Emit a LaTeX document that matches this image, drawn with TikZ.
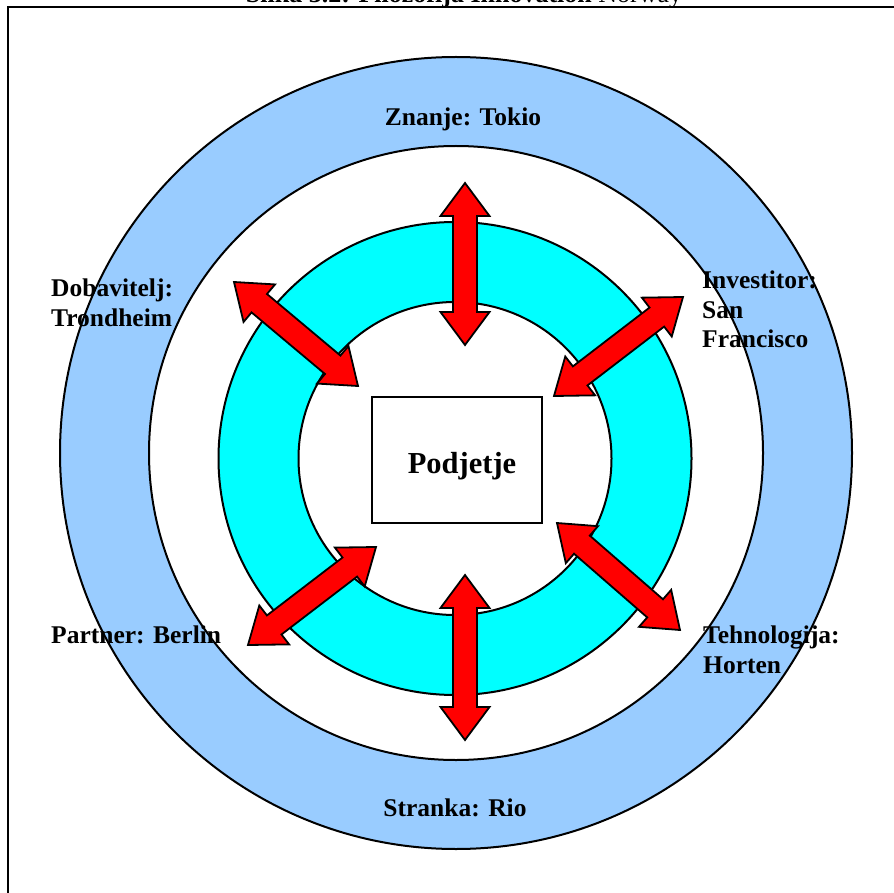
\documentclass[tikz,border=0pt]{standalone}
\usepackage{fontspec}
\setmainfont{Liberation Serif}
\usetikzlibrary{calc}
\definecolor{ringblue}{HTML}{99CCFF}
\definecolor{ringcyan}{HTML}{00FFFF}
\definecolor{arrowred}{HTML}{FF0000}
\tikzset{
  ringline/.style={draw=black, line width=2pt},
  arrowbody/.style={fill=arrowred, draw=black, line width=1.8pt, line join=miter},
  lbl/.style={inner sep=0pt, font=\fontsize{25.5}{29.5}\selectfont\bfseries, align=left},
  boxsty/.style={draw=black, line width=1.6pt, fill=white, minimum width=170pt, minimum height=126pt, inner sep=0pt},
}
\newcommand{\dblarrow}[2]{%
  \coordinate (h1) at ($(#1)!33pt!(#2)$);
  \coordinate (h2) at ($(#2)!33pt!(#1)$);
  \filldraw[arrowbody] (#1)
    -- ($(h1)!24.5pt!90:(#2)$) -- ($(h1)!12pt!90:(#2)$)
    -- ($(h2)!12pt!-90:(#1)$) -- ($(h2)!24.5pt!-90:(#1)$)
    -- (#2)
    -- ($(h2)!24.5pt!90:(#1)$) -- ($(h2)!12pt!90:(#1)$)
    -- ($(h1)!12pt!-90:(#2)$) -- ($(h1)!24.5pt!-90:(#2)$)
    -- cycle;
}
\begin{document}
\begin{tikzpicture}[x=1pt, y=-1pt]
\useasboundingbox (0,0) rectangle (894,893);
% rings
\coordinate (oc) at (456,453);
\coordinate (ic) at (455,458.5);
\filldraw[ringline, fill=ringblue] (oc) circle[radius=396pt];
\filldraw[ringline, fill=white] (oc) circle[radius=307pt];
\filldraw[ringline, fill=ringcyan] (ic) circle[radius=236.5pt];
\filldraw[ringline, fill=white] (ic) circle[radius=156.5pt];
% centre box
\node[boxsty] (firm) at (457,460) {};
\node[inner sep=0pt, anchor=base, font=\fontsize{30.5}{34}\selectfont\bfseries] (firmtext) at (462,473) {Podjetje};
% arrows
\coordinate (a1) at (465,183); \coordinate (b1) at (465,345);
\coordinate (a2) at (465,575); \coordinate (b2) at (465,740);
\coordinate (a3) at (234,282); \coordinate (b3) at (358,386);
\coordinate (a4) at (683,297); \coordinate (b4) at (554,396);
\coordinate (a5) at (376,547); \coordinate (b5) at (248,645);
\coordinate (a6) at (557,523); \coordinate (b6) at (680,630);
\dblarrow{a1}{b1}
\dblarrow{a2}{b2}
\dblarrow{a3}{b3}
\dblarrow{a4}{b4}
\dblarrow{a5}{b5}
\dblarrow{a6}{b6}
% labels
\node[lbl, anchor=base] (znanje) at (463,125.5) {Znanje: Tokio};
\node[lbl, anchor=base] (stranka) at (455,816.5) {Stranka: Rio};
\node[lbl, anchor=north west] (dobav) at (51,279) {Dobavitelj:\\Trondheim};
\node[lbl, anchor=north west] (invest) at (702,271) {Investitor:\\San\\Francisco};
\node[lbl, anchor=north west] (partner) at (51,626) {Partner: Berlin};
\node[lbl, anchor=north west] (tehno) at (703,626) {Tehnologija:\\Horten};
% frame and title (title is cut by the top edge, as in the reference)
\draw[line width=2.2pt] (8,893) -- (8,7) -- (894,7);
\node[inner sep=0pt, anchor=base, font=\fontsize{26}{30}\selectfont] (title) at (464,3) {\textbf{Slika 3.2: Filozofija Innovation} Norway};
\end{tikzpicture}
\end{document}
